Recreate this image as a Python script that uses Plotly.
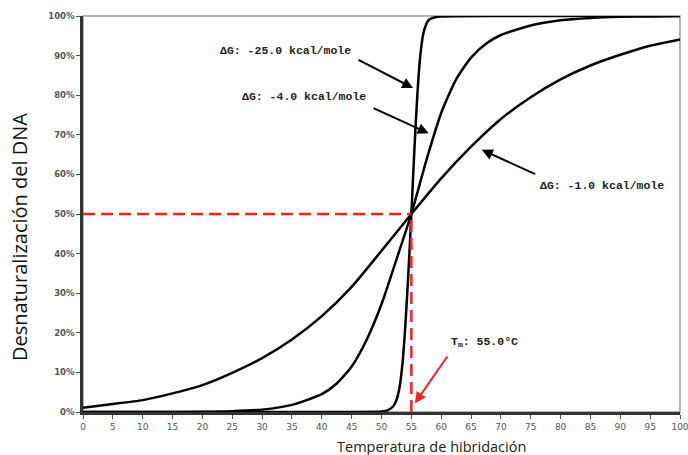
import plotly.graph_objects as go

# --- data ---
shallow_x = [0, 5, 10, 15, 20, 25, 30, 35, 40, 45, 50, 55, 60, 65, 70, 75, 80, 85, 90, 95, 100]
shallow_y = [1.1, 2.0, 3.0, 4.7, 6.8, 9.9, 13.6, 18.3, 24.2, 31.6, 40.7, 50.0, 59.0, 67.0, 74.0,
             79.5, 84.0, 87.5, 90.2, 92.5, 94.1]

medium_x = [0, 5, 10, 15, 20, 25, 30, 35, 40, 42.5, 45, 47.5, 50, 52.5, 55, 57.5, 60, 62.5, 65,
            67.5, 70, 75, 80, 85, 90, 95, 100]
medium_y = [0, 0, 0, 0, 0.05, 0.2, 0.6, 1.8, 4.5, 7.2, 11.5, 18.2, 27.2, 38.5, 50.0, 63.5, 75.5,
            84.0, 89.5, 93.0, 95.2, 97.6, 98.9, 99.5, 99.8, 99.9, 100]

steep_x = [0, 10, 20, 30, 40, 45, 50, 51, 52, 52.5, 53, 53.5, 54, 54.5, 55, 55.5, 56, 56.5, 57,
           57.5, 58, 59, 60, 70, 80, 90, 100]
steep_y = [0, 0, 0, 0, 0, 0, 0.1, 0.4, 1.5, 3.0, 6.0, 12.0, 22.0, 35.0, 50.0, 66.0, 80.0, 90.0,
           95.5, 98.0, 99.1, 99.7, 99.9, 100, 100, 100, 100]

tm = 55.0
half = 50.0

x_ticks = list(range(0, 101, 5))
y_ticks = list(range(0, 101, 10))
y_tick_text = [f"{v}%" for v in y_ticks]

labels = ["ΔG: -25.0 kcal/mole", "ΔG: -4.0 kcal/mole", "ΔG: -1.0 kcal/mole"]
tm_label = "T<sub>m</sub>: 55.0°C"

fig = go.Figure()

for xs, ys in [(shallow_x, shallow_y), (medium_x, medium_y), (steep_x, steep_y)]:
    fig.add_trace(go.Scatter(x=xs, y=ys, mode="lines",
                             line=dict(color="black", width=2.5, shape="spline", smoothing=0.6),
                             cliponaxis=False, hoverinfo="skip", showlegend=False))

red = "#ff1f1f"
fig.add_trace(go.Scatter(x=[0, tm], y=[half, half], mode="lines",
                         line=dict(color=red, width=2.5, dash="12px,6px"), showlegend=False))
fig.add_trace(go.Scatter(x=[tm, tm], y=[0, half], mode="lines",
                         line=dict(color=red, width=2.5, dash="12px,6px"), showlegend=False))

mono = dict(family="Liberation Mono, Courier New, monospace", size=11.5, color="#222", weight="bold")

# arrows: (tip_x, tip_y, tail_x, tail_y, color)
arrows = [
    (55.3, 81.8, 45.9, 89.1, "black"),
    (57.9, 70.4, 48.4, 76.9, "black"),
    (66.8, 66.2, 76.0, 59.9, "black"),
    (55.6, 2.2, 61.2, 14.4, red),
]
for tx, ty, ax, ay, c in arrows:
    fig.add_annotation(x=tx, y=ty, ax=ax, ay=ay, xref="x", yref="y", axref="x", ayref="y",
                       text="", showarrow=True, arrowhead=2, arrowsize=1.1, arrowwidth=2,
                       arrowcolor=c)

text_pos = [(33.95, 91.4), (37.1, 79.6), (87.0, 57.3)]
for (px, py), t in zip(text_pos, labels):
    fig.add_annotation(x=px, y=py, xref="x", yref="y", text=t, showarrow=False, font=mono)
fig.add_annotation(x=67.2, y=17.75, xref="x", yref="y", text=tm_label, showarrow=False, font=mono)

# axis titles
fig.add_annotation(x=0.584, y=-0.087, xref="paper", yref="paper", text="Temperatura de hibridación",
                   xanchor="center", yanchor="middle", showarrow=False,
                   font=dict(family="Open Sans", size=14.5, color="#222"))
fig.add_annotation(x=-0.1055, y=0.442, xref="paper", yref="paper", text="Desnaturalización del DNA",
                   xanchor="center", yanchor="middle", textangle=-90, showarrow=False,
                   font=dict(family="Open Sans", size=20, color="#111"))

# plot box
fig.add_shape(type="rect", xref="paper", yref="paper", x0=0, y0=0, x1=1, y1=1,
              line=dict(color="#999", width=1.5), layer="below")

fig.update_xaxes(range=[0, 100], tickvals=x_ticks, ticks="outside", ticklen=4, tickwidth=1,
                 tickcolor="#555", showgrid=False, zeroline=False, showline=True,
                 linecolor="#333", linewidth=2.5, ticklabeloverflow="allow", automargin=False,
                 tickfont=dict(family="DejaVu Sans", size=9, color="#555"))
fig.update_yaxes(range=[0, 100], tickvals=y_ticks, ticktext=y_tick_text, ticks="outside", ticklen=4,
                 tickwidth=1, tickcolor="#555", showgrid=False, zeroline=False, showline=True,
                 linecolor="#333", linewidth=2.5, automargin=False,
                 tickfont=dict(family="DejaVu Sans", size=8.5, color="#555", weight="bold"))

fig.update_layout(width=688, height=455, margin=dict(l=83, r=8, t=16, b=43),
                  paper_bgcolor="white", plot_bgcolor="white", showlegend=False)

fig.write_html("out.html", config={"displayModeBar": False},
               post_script="document.body.style.margin='0';document.body.style.overflow='hidden';")
